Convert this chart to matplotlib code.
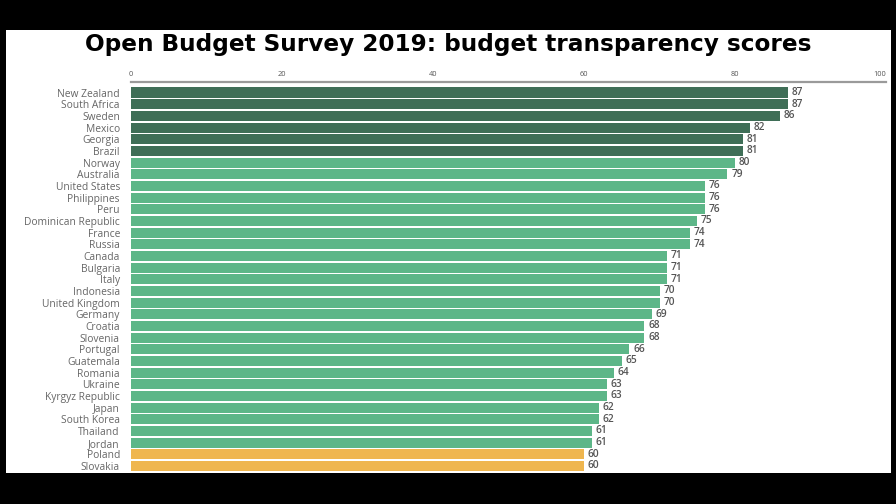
import matplotlib.pyplot as plt
from matplotlib.patches import Rectangle

countries = ['New Zealand', 'South Africa', 'Sweden', 'Mexico', 'Georgia', 'Brazil',
             'Norway', 'Australia', 'United States', 'Philippines', 'Peru',
             'Dominican Republic', 'France', 'Russia', 'Canada', 'Bulgaria', 'Italy',
             'Indonesia', 'United Kingdom', 'Germany', 'Croatia', 'Slovenia', 'Portugal',
             'Guatemala', 'Romania', 'Ukraine', 'Kyrgyz Republic', 'Japan', 'South Korea',
             'Thailand', 'Jordan', 'Poland', 'Slovakia']
scores = [87, 87, 86, 82, 81, 81, 80, 79, 76, 76, 76, 75, 74, 74, 71, 71, 71, 70, 70,
          69, 68, 68, 66, 65, 64, 63, 63, 62, 62, 61, 61, 60, 60]
groups = ['top'] * 6 + ['mid'] * 25 + ['low'] * 2
ticks = [0, 20, 40, 60, 80, 100]

palette = {'top': '#3f6e57', 'mid': '#5db688', 'low': '#efb64f'}
fam = ['Open Sans', 'DejaVu Sans']

W, H = 896, 504
fig = plt.figure(figsize=(W / 100, H / 100), dpi=100, facecolor='black')

# white panel on the black background
fig.patches.append(Rectangle((6 / W, 1 - 473 / H), 885 / W, 443 / H,
                             transform=fig.transFigure, facecolor='white',
                             edgecolor='none', zorder=-5))

fig.text(448 / W, 1 - 44 / H, 'Open Budget Survey 2019: budget transparency scores',
         ha='center', va='center', fontsize=16.7, fontweight='heavy',
         family='DejaVu Sans', color='black')

ax = fig.add_axes([131 / W, 1 - 473 / H, 755 / W, (473 - 82) / H])
ax.set_facecolor('none')
ax.set_zorder(2)

y = list(range(len(countries)))
ax.barh(y, scores, height=0.86, color=[palette[g] for g in groups])
ax.set_ylim(32.6, -0.9)
ax.set_xlim(0, 99.9)

for yi, s in zip(y, scores):
    ax.text(s + 0.5, yi, str(s), va='center', ha='left', fontsize=7.3,
            color='#555555', family=fam, fontweight='semibold')

ax.set_yticks(y)
ax.set_yticklabels(countries, fontsize=7.4, color='#666666', family=fam)
ax.tick_params(axis='y', length=0, pad=8)

ax.xaxis.tick_top()
ax.set_xticks(ticks)
ax.set_xticklabels([str(t) for t in ticks], fontsize=5.3, color='#555555', family=fam)
ax.get_xticklabels()[-1].set_horizontalalignment('right')
ax.tick_params(axis='x', length=0, pad=3)

for side in ['left', 'right', 'bottom']:
    ax.spines[side].set_visible(False)
ax.spines['top'].set_color('#9a9a9a')
ax.spines['top'].set_linewidth(1.6)

plt.savefig('out.png', dpi=100, facecolor='black')
